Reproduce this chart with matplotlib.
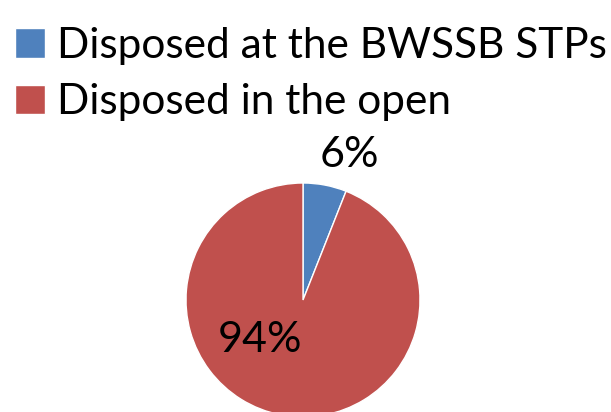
import matplotlib.pyplot as plt

labels = ['Disposed at the BWSSB STPs', 'Disposed in the open']
shares = [6, 94]
colors = ['#4F81BD', '#C0504D']
label_pos = [(0.40, 1.24), (-0.37, -0.34)]

plt.rcParams['font.family'] = ['Lato', 'DejaVu Sans']

fig = plt.figure(figsize=(6.11, 4.12), dpi=100)
# pie centre ~ (303, 300) px, radius ~117 px
ax = fig.add_axes([(303 - 117) / 611, (412 - 300 - 117) / 412, 234 / 611, 234 / 412])
wedges, _ = ax.pie(shares, colors=colors, startangle=90, counterclock=False,
                   radius=1, wedgeprops=dict(edgecolor='white', linewidth=1))
ax.set_xlim(-1, 1)
ax.set_ylim(-1, 1)
ax.set_aspect('equal')
ax.axis('off')

for s, (x, y) in zip(shares, label_pos):
    ax.text(x, y, f'{s}%', ha='center', va='center', fontsize=31, clip_on=False)

fig.legend(wedges, labels, loc='upper left', bbox_to_anchor=(15 / 611, 1 - 27 / 412),
           frameon=False, fontsize=30.5, handlelength=0.7, handleheight=0.7,
           handletextpad=0.3, labelspacing=0.43, borderpad=0, borderaxespad=0)

fig.savefig('out.png', dpi=100)
